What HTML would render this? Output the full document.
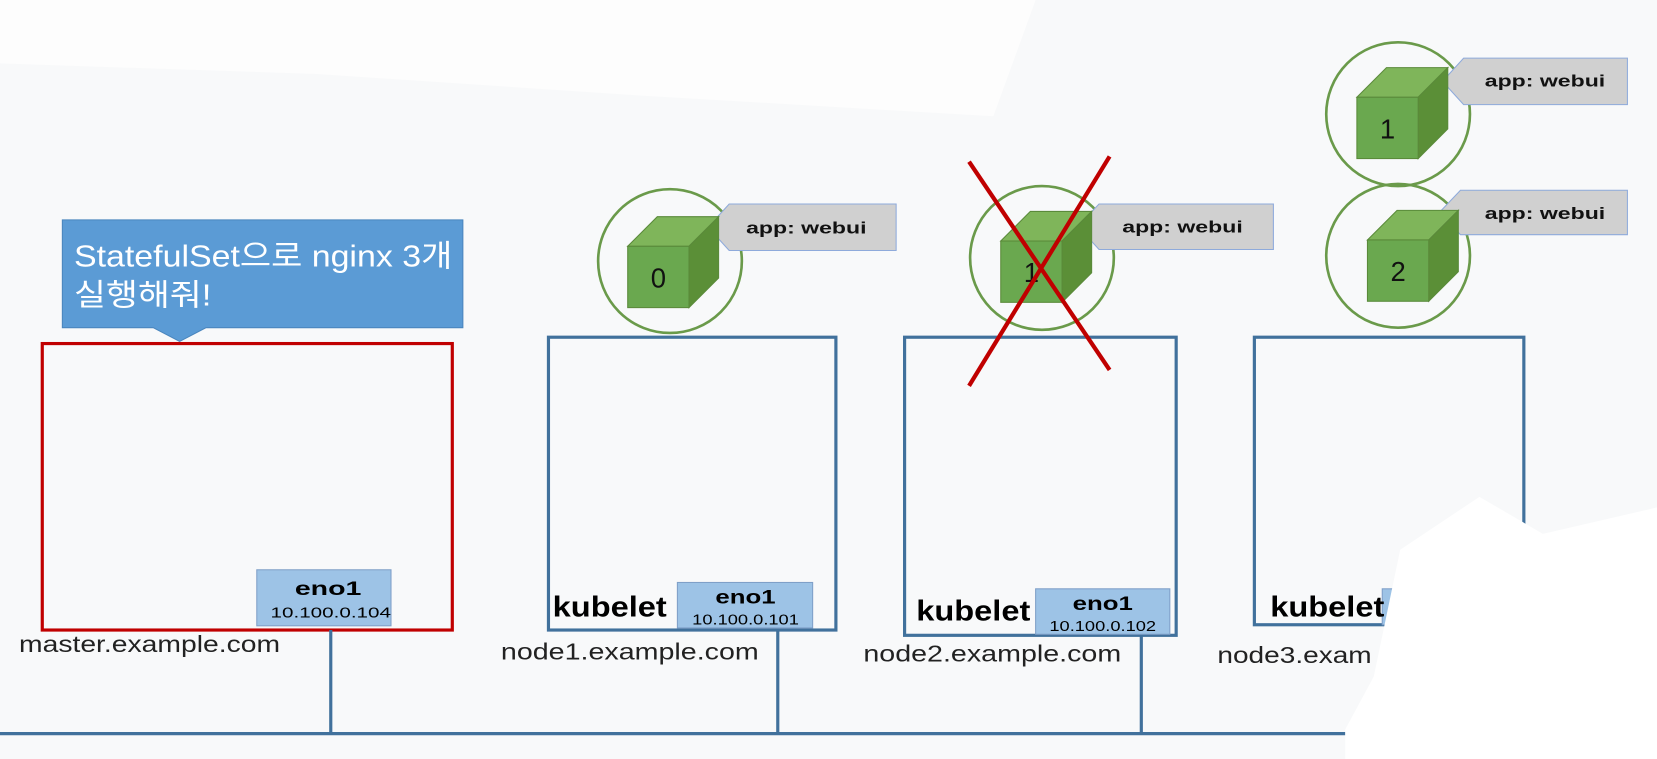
<!DOCTYPE html>
<html><head><meta charset="utf-8"><style>
html,body{margin:0;padding:0;background:#f8f9fa;}
svg{display:block}
text{font-family:"Liberation Sans","Noto Sans CJK KR",sans-serif}
</style></head><body>
<svg width="1657" height="759" viewBox="0 0 1568 718" preserveAspectRatio="none" xmlns="http://www.w3.org/2000/svg">
<defs>
<g id="cube">
<polygon points="0,0 28,-28 86,-28 58,0" fill="#7fb55a" stroke="#5a8a3a" stroke-width="1"/>
<polygon points="58,0 86,-28 86,30 58,58" fill="#5b8f37" stroke="#5a8a3a" stroke-width="1"/>
<rect x="0" y="0" width="58" height="58" fill="#6aa84f" stroke="#5a8a3a" stroke-width="1"/>
</g>
</defs>
<rect width="1568" height="718" fill="#f8f9fa"/>
<path d="M0,0 H980 L940,110 L600,90 L300,70 L0,60 Z" fill="#fdfdfd"/>
<!-- master -->
<rect x="40" y="325" width="388" height="271" fill="none" stroke="#c00000" stroke-width="3"/>
<rect x="243" y="539" width="127" height="53" fill="#9dc3e6" stroke="#7f9fc8"/>
<text x="279" y="563" font-size="18" font-weight="bold" textLength="63" lengthAdjust="spacingAndGlyphs">eno1</text>
<text x="256" y="584" font-size="14" textLength="114" lengthAdjust="spacingAndGlyphs">10.100.0.104</text>
<text x="18" y="617" font-size="22" fill="#222" textLength="247" lengthAdjust="spacingAndGlyphs">master.example.com</text>
<!-- callout -->
<polygon points="59,208 438,208 438,310 195,310 170,323 145,310 59,310" fill="#5b9bd5" stroke="#4a86be"/>
<text x="70" y="252" font-size="29" fill="#fff" textLength="358" lengthAdjust="spacingAndGlyphs">StatefulSet으로 nginx 3개</text>
<text x="70" y="289" font-size="29" fill="#fff" textLength="130" lengthAdjust="spacingAndGlyphs">실행해줘!</text>
<!-- network -->
<g stroke="#41719c" stroke-width="3" fill="none">
<line x1="0" y1="694" x2="1273" y2="694"/>
<line x1="313" y1="596" x2="313" y2="694"/>
<line x1="736" y1="596" x2="736" y2="694"/>
<line x1="1080" y1="601" x2="1080" y2="694"/>
<rect x="519" y="319" width="272" height="277"/>
<rect x="856" y="319" width="257" height="282"/>
<rect x="1187" y="319" width="255" height="272"/>
</g>
<!-- node1 -->
<rect x="641" y="551" width="128" height="43" fill="#9dc3e6" stroke="#7f9fc8"/>
<text x="677" y="571" font-size="18" font-weight="bold" textLength="57" lengthAdjust="spacingAndGlyphs">eno1</text>
<text x="655" y="591" font-size="14" textLength="101" lengthAdjust="spacingAndGlyphs">10.100.0.101</text>
<text x="523" y="583" font-size="27" font-weight="bold" textLength="108" lengthAdjust="spacingAndGlyphs">kubelet</text>
<text x="474" y="624" font-size="22" fill="#222" textLength="244" lengthAdjust="spacingAndGlyphs">node1.example.com</text>
<!-- node2 -->
<rect x="980" y="557" width="127" height="43" fill="#9dc3e6" stroke="#7f9fc8"/>
<text x="1015" y="577" font-size="18" font-weight="bold" textLength="57" lengthAdjust="spacingAndGlyphs">eno1</text>
<text x="993" y="597" font-size="14" textLength="101" lengthAdjust="spacingAndGlyphs">10.100.0.102</text>
<text x="867" y="587" font-size="27" font-weight="bold" textLength="108" lengthAdjust="spacingAndGlyphs">kubelet</text>
<text x="817" y="626" font-size="22" fill="#222" textLength="244" lengthAdjust="spacingAndGlyphs">node2.example.com</text>
<!-- node3 -->
<rect x="1308" y="557" width="30" height="34" fill="#9dc3e6" stroke="#7f9fc8"/>
<text x="1202" y="583" font-size="27" font-weight="bold" textLength="108" lengthAdjust="spacingAndGlyphs">kubelet</text>
<text x="1152" y="627" font-size="22" fill="#222" textLength="146" lengthAdjust="spacingAndGlyphs">node3.exam</text>
<!-- white erase blob -->
<path d="M1325,520 L1400,470 L1460,505 L1568,480 L1568,718 L1273,718 L1273,690 L1300,640 Z" fill="#ffffff"/>
<!-- pods -->
<g fill="none" stroke="#6a9a4a" stroke-width="2.5">
<circle cx="634" cy="247" r="68"/>
<circle cx="986" cy="244" r="68"/>
<circle cx="1323" cy="108" r="68"/>
<circle cx="1323" cy="242" r="68"/>
</g>
<g font-weight="bold" font-size="16" fill="#111">
<polygon points="670,215 690,193 848,193 848,237 690,237" fill="#d0d0d0" stroke="#8eaadb"/>
<text x="706" y="221" textLength="114" lengthAdjust="spacingAndGlyphs">app: webui</text>
<polygon points="1020,214 1040,193 1205,193 1205,236 1040,236" fill="#d0d0d0" stroke="#8eaadb"/>
<text x="1062" y="220" textLength="114" lengthAdjust="spacingAndGlyphs">app: webui</text>
<polygon points="1365,77 1385,55 1540,55 1540,99 1385,99" fill="#d0d0d0" stroke="#8eaadb"/>
<text x="1405" y="82" textLength="114" lengthAdjust="spacingAndGlyphs">app: webui</text>
<polygon points="1362,201 1382,180 1540,180 1540,222 1382,222" fill="#d0d0d0" stroke="#8eaadb"/>
<text x="1405" y="207" textLength="114" lengthAdjust="spacingAndGlyphs">app: webui</text>
</g>
<use href="#cube" x="594" y="233"/>
<use href="#cube" x="947" y="228"/>
<use href="#cube" x="1284" y="92"/>
<use href="#cube" x="1294" y="227"/>
<g font-size="26" text-anchor="middle" fill="#111">
<text x="623" y="272">0</text>
<text x="976" y="267">1</text>
<text x="1313" y="131">1</text>
<text x="1323" y="266">2</text>
</g>
<g stroke="#c00000" stroke-width="4">
<line x1="917" y1="153" x2="1050" y2="350"/>
<line x1="1050" y1="148" x2="917" y2="365"/>
</g>
</svg>
</body></html>
